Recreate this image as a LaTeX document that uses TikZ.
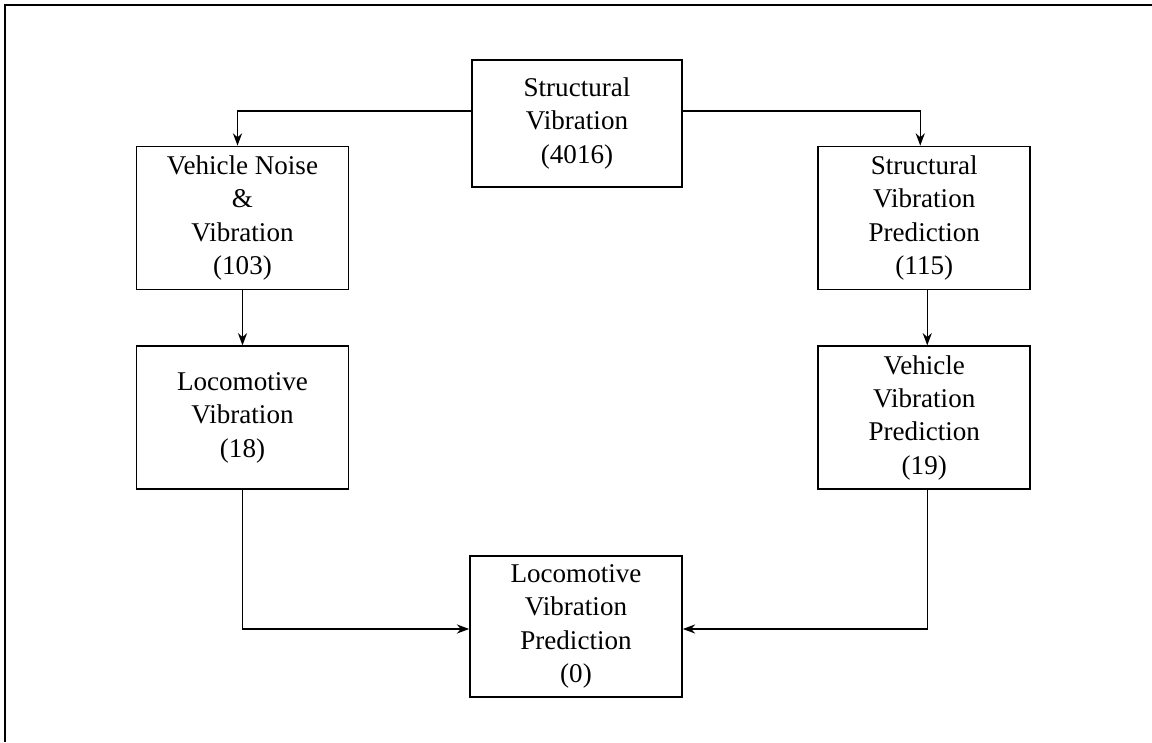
\documentclass[tikz,border=0pt]{standalone}
\usepackage{fontspec}
\setmainfont{Liberation Serif}
\usepackage{tikz}
\usetikzlibrary{arrows.meta, positioning}
\tikzset{block/.style={draw, line width=1pt, align=center, inner sep=0pt, minimum width=4.24cm, minimum height=2.86cm, font=\fontsize{15.4}{19}\selectfont}}
\tikzset{frameline/.style={line width=1.4pt}}

\begin{document}
\begin{tikzpicture}[>={Stealth[length=7pt, width=5.2pt]}, line width=0.8pt, node distance=1.1cm]
\useasboundingbox (0,0) rectangle (23.04,14.84);
\draw[frameline] (0.1,0) -- (0.1,14.74) -- (23.04,14.74);
\node[block, minimum height=2.54cm, minimum width=4.2cm] (sv) at (11.54,12.37) {Structural\\Vibration\\(4016)};
\node[block] (vnv) at (4.85,10.48) {Vehicle Noise\\\&\\Vibration\\(103)};
\node[block, right=9.36cm of vnv] (svp) {Structural\\Vibration\\Prediction\\(115)};
\node[block, below=of vnv] (lv) {Locomotive\\Vibration\\(18)};
\node[block, below=of svp] (vvp) {Vehicle\\Vibration\\Prediction\\(19)};
\node[block, minimum height=2.82cm] (lvp) at (11.52,2.31) {Locomotive\\Vibration\\Prediction\\(0)};
\draw [->] ([yshift=0.25cm]sv.west) -| ([xshift=-0.1cm]vnv.north);
\draw [->] ([yshift=0.25cm]sv.east) -| ([xshift=-0.08cm]svp.north);
\draw [->] (vnv) -- (lv);
\draw [->] ([xshift=0.06cm]svp.south) -- ([xshift=0.06cm]vvp.north);
\draw [->] (lv.south) |- ([yshift=-0.05cm]lvp.west);
\draw [->] ([xshift=0.06cm]vvp.south) |- ([yshift=-0.05cm]lvp.east);
\end{tikzpicture}
\end{document}
